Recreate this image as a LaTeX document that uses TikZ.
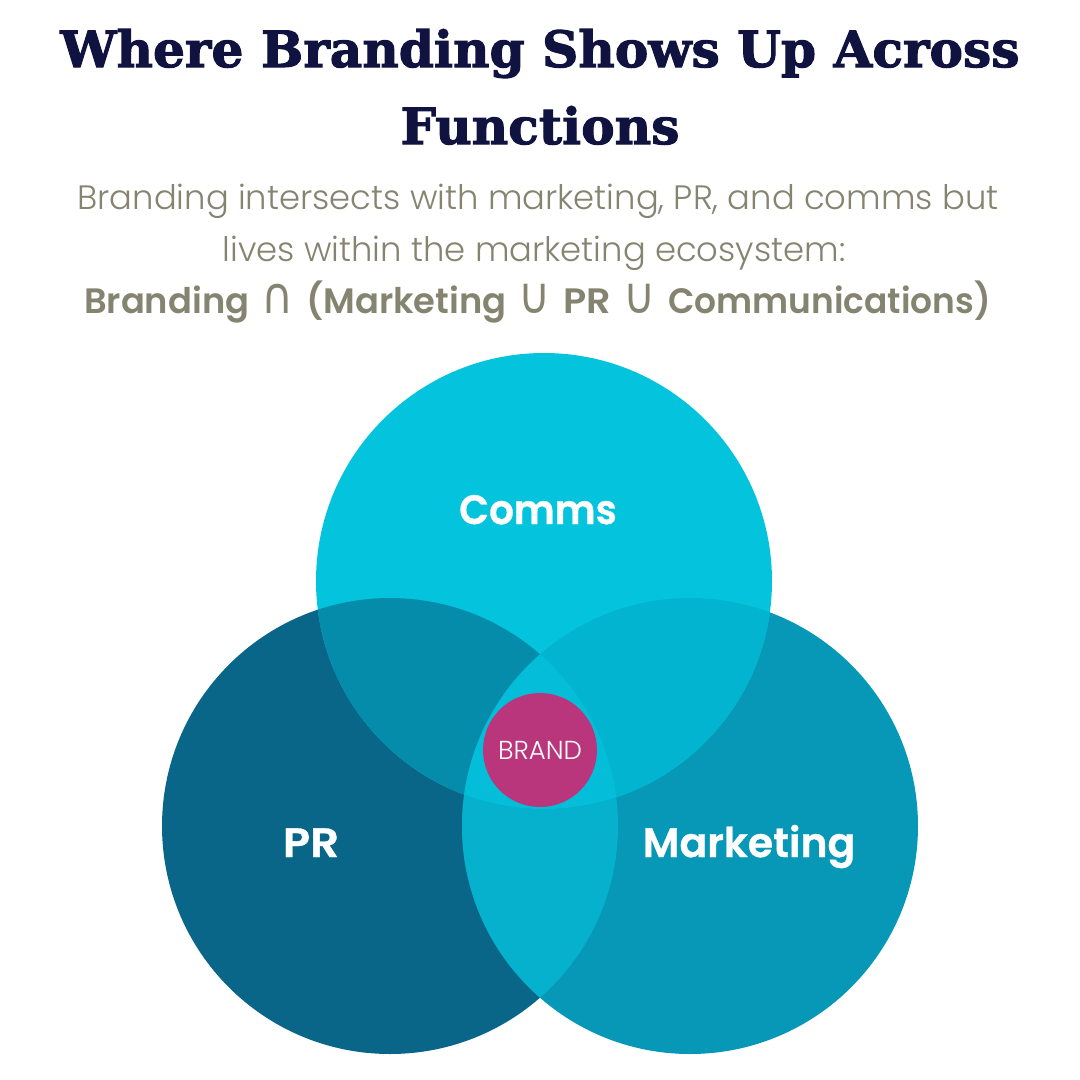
\documentclass[tikz,border=0pt]{standalone}
\usepackage{fontspec}
\setmainfont{Poppins}
\newfontfamily\titlefont[LetterSpace=0.3,FakeBold=2.2]{DejaVu Serif Bold}
\newfontfamily\subfont{Poppins Light}
\newfontfamily\symfont{DejaVu Sans}
\newfontfamily\boldsub{Poppins SemiBold}
\newfontfamily\labelfont[FakeBold=0.8]{Poppins SemiBold}
\definecolor{cComms}{HTML}{04C4DD}
\definecolor{cPR}{HTML}{0A6689}
\definecolor{cMkt}{HTML}{0698B6}
\definecolor{cCP}{HTML}{058CAB}
\definecolor{cCM}{HTML}{03B4D0}
\definecolor{cPM}{HTML}{06B1CE}
\definecolor{cAll}{HTML}{04BDD8}
\definecolor{cBrand}{HTML}{BA367C}
\definecolor{cTitle}{HTML}{10123F}
\definecolor{cSub}{HTML}{858470}
\tikzset{
  titletext/.style={text=cTitle,font=\titlefont\fontsize{50}{54}\selectfont,anchor=base,inner sep=0pt},
  subtext/.style={text=cSub,font=\subfont\fontsize{33.8}{38}\selectfont,anchor=base,inner sep=0pt},
  subbold/.style={text=cSub,font=\boldsub\fontsize{35.3}{38}\selectfont,anchor=base,inner sep=0pt},
  bigl/.style={text=white,font=\labelfont\fontsize{41}{44}\selectfont,anchor=base,inner sep=0pt},
}
\newcommand{\setsym}[1]{\kern4pt{\symfont\fontsize{44}{44}\selectfont\scalebox{1}[1.15]{\char"#1\relax}}\kern4pt\relax}
\def\cC{(544,581) circle[radius=228]}
\def\cP{(390,826) circle[radius=228]}
\def\cM{(690,826) circle[radius=228]}
\begin{document}
\begin{tikzpicture}[x=1pt,y=-1pt]
\useasboundingbox (0,0) rectangle (1080,1080);
\fill[white] (0,0) rectangle (1080,1080);
\fill[cPR] \cP;
\fill[cMkt] \cM;
\fill[cComms] \cC;
\begin{scope}\clip \cP; \fill[cPM] \cM; \end{scope}
\begin{scope}\clip \cP; \fill[cCP] \cC; \end{scope}
\begin{scope}\clip \cM; \fill[cCM] \cC; \end{scope}
\begin{scope}\clip \cP; \clip \cM; \fill[cAll] \cC; \end{scope}
\node[circle,fill=cBrand,minimum size=114pt,inner sep=0pt] (brand) at (540,750) {};
\node[text=white,font=\subfont\fontsize{26}{28}\selectfont,inner sep=0pt,anchor=base] (brandl) at (540,759) {BRAND};
\node[bigl] (comms) at (538,524) {\scalebox{0.95}[1]{Comms}};
\node[bigl] (pr) at (311,857) {\scalebox{1.1}[1]{PR}};
\node[bigl] (mkt) at (749,857) {Marketing};
\node[titletext] (t1) at (540,67) {Where Branding Shows Up Across};
\node[titletext] (t2) at (540,144) {Functions};
\node[subtext] (s1) at (538,209) {Branding intersects with marketing, PR, and comms but};
\node[subtext] (s2) at (534,261) {lives within the marketing ecosystem:};
\node[subbold] (s3) at (537.5,313) {Branding \setsym{2229} (Marketing \setsym{222A} \scalebox{1.08}[1]{PR} \setsym{222A} \scalebox{0.975}[1]{Communications)}};
\end{tikzpicture}
\end{document}
